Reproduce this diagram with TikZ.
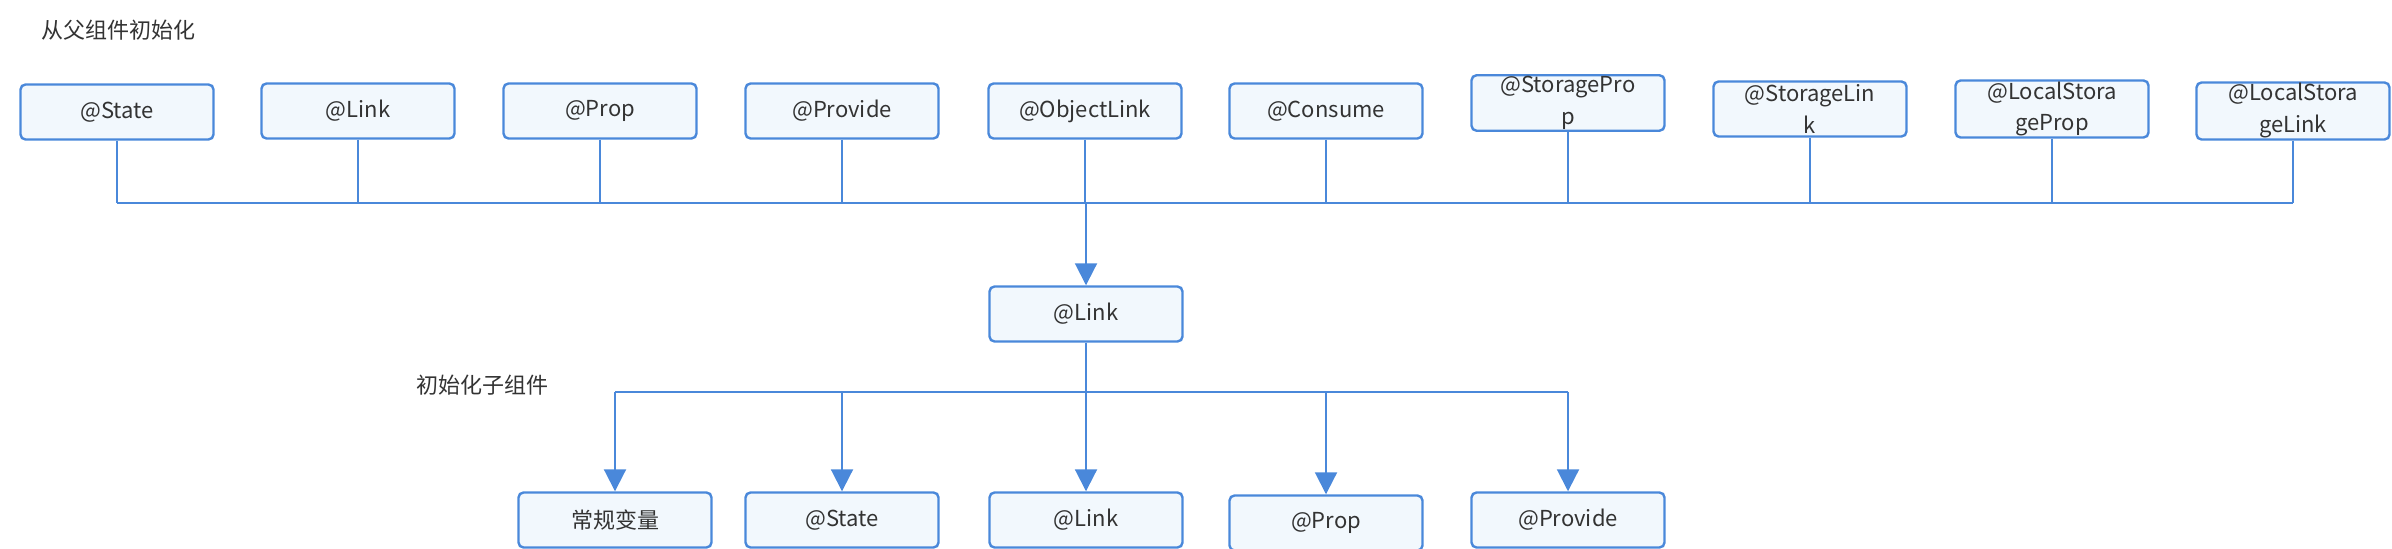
\documentclass[tikz,border=0pt]{standalone}
\usepackage{fontspec}
\setmainfont{Noto Sans CJK SC}
\usetikzlibrary{arrows.meta}
\definecolor{lineblue}{HTML}{4A88DA}
\definecolor{boxfill}{HTML}{F2F8FD}
\definecolor{txtgray}{HTML}{333333}

\begin{document}
\begin{tikzpicture}[x=0.5pt, y=-0.5pt,
		every node/.style={text=txtgray, font=\fontsize{11}{16}\selectfont},
		box/.style={draw=lineblue, fill=boxfill, line width=1.2pt, rounded corners=2.5pt,
			minimum width=96.5pt, minimum height=27.5pt, inner sep=0.5pt, align=center},
		wire/.style={draw=lineblue, line width=1pt},
		arr/.style={wire, -{Triangle[width=11pt,length=11pt]}}
	]
	\useasboundingbox (0,0) rectangle (2392,549);
	\clip (0,0) rectangle (2392,549);
	% labels
	\node[anchor=west] (parentlbl) at (34,30) {从父组件初始化};
	\node[anchor=west] (childlbl) at (409,385) {初始化子组件};
	% parent decorators
	\node[box] (pState) at (117,112) {@State};
	\node[box] (pLink) at (358,111) {@Link};
	\node[box] (pProp) at (600,111) {@Prop};
	\node[box] (pProvide) at (842,111) {@Provide};
	\node[box] (pObjLink) at (1085,111) {@ObjectLink};
	\node[box] (pConsume) at (1326,111) {@Consume};
	\node[box] (pStorProp) at (1568,103) {@StoragePro\\p};
	\node[box] (pStorLink) at (1810,109) {@StorageLin\\k};
	\node[box] (pLSProp) at (2052,109) {@LocalStora\\geProp};
	\node[box] (pLSLink) at (2293,111) {@LocalStora\\geLink};
	% middle
	\node[box] (mLink) at (1086,314) {@Link};
	% child decorators
	\node[box] (cVar) at (615,520) {常规变量};
	\node[box] (cState) at (842,520) {@State};
	\node[box] (cLink) at (1086,520) {@Link};
	\node[box] (cProp) at (1326,523) {@Prop};
	\node[box] (cProvide) at (1568,520) {@Provide};
	% top bus
	\coordinate (topbusL) at (117,203);
	\coordinate (topbusR) at (2293,203);
	\draw[wire] (topbusL) -- (topbusR);
	\draw[wire] (pState) -- (pState |- topbusL);
	\draw[wire] (pLink) -- (pLink |- topbusL);
	\draw[wire] (pProp) -- (pProp |- topbusL);
	\draw[wire] (pProvide) -- (pProvide |- topbusL);
	\draw[wire] (pObjLink) -- (pObjLink |- topbusL);
	\draw[wire] (pConsume) -- (pConsume |- topbusL);
	\draw[wire] (pStorProp) -- (pStorProp |- topbusL);
	\draw[wire] (pStorLink) -- (pStorLink |- topbusL);
	\draw[wire] (pLSProp) -- (pLSProp |- topbusL);
	\draw[wire] (pLSLink) -- (pLSLink |- topbusL);
	\draw[arr] (mLink |- topbusL) -- (mLink);
	% bottom bus
	\coordinate (botbusL) at (615,392);
	\coordinate (botbusR) at (1568,392);
	\draw[wire] (botbusL) -- (botbusR);
	\draw[wire] (mLink) -- (mLink |- botbusL);
	\draw[arr] (cVar |- botbusL) -- (cVar);
	\draw[arr] (cState |- botbusL) -- (cState);
	\draw[arr] (cLink |- botbusL) -- (cLink);
	\draw[arr] (cProp |- botbusL) -- (cProp);
	\draw[arr] (cProvide |- botbusL) -- (cProvide);
\end{tikzpicture}
\end{document}
